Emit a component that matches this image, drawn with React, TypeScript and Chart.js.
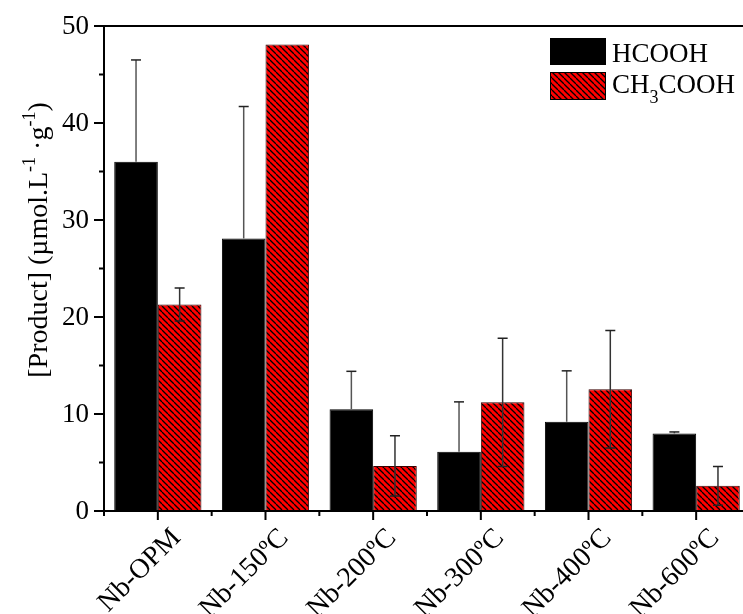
import React, { useEffect, useRef } from "react";
import { Chart, registerables } from "chart.js";

Chart.register(...registerables);

const categories = ["Nb-OPM", "Nb-150ºC", "Nb-200ºC", "Nb-300ºC", "Nb-400ºC", "Nb-600ºC"];
const hcooh = [36.0, 28.1, 10.5, 6.1, 9.2, 8.0];
const hcoohErr = [10.5, 13.6, 3.9, 5.15, 5.25, 0.15];
const ch3cooh = [21.3, 48.1, 4.65, 11.2, 12.55, 2.6];
const ch3coohErr = [1.7, 0, 3.1, 6.6, 6.05, 2.0];
const yTicks = [0, 10, 20, 30, 40, 50];
const yMinorTicks = [5, 15, 25, 35, 45];

const FONT = "'Liberation Serif', 'Times New Roman', serif";

function makeHatch(): CanvasPattern | string {
  const c = document.createElement("canvas");
  c.width = 6;
  c.height = 6;
  const g = c.getContext("2d");
  if (!g) return "#ff0000";
  g.fillStyle = "#ff0000";
  g.fillRect(0, 0, 6, 6);
  g.strokeStyle = "#000000";
  g.lineWidth = 1.3;
  for (const o of [-6, 0, 6]) {
    g.beginPath();
    g.moveTo(o, 0);
    g.lineTo(o + 6, 6);
    g.stroke();
  }
  const p = g.createPattern(c, "repeat");
  return p || "#ff0000";
}

export default function App() {
  const ref = useRef<HTMLCanvasElement | null>(null);

  useEffect(() => {
    if (!ref.current) return;
    const hatch = makeHatch();
    const errs = [hcoohErr, ch3coohErr];

    const custom = {
      id: "customAxes",
      afterDatasetsDraw(chart: any) {
        const ctx: CanvasRenderingContext2D = chart.ctx;
        const xs = chart.scales.x;
        const ys = chart.scales.y;
        const area = chart.chartArea;
        ctx.save();

        // error bars
        chart.data.datasets.forEach((ds: any, di: number) => {
          const meta = chart.getDatasetMeta(di);
          meta.data.forEach((bar: any, j: number) => {
            const v = ds.data[j];
            const e = errs[di][j];
            if (!e) return;
            const x = bar.x;
            const yt = ys.getPixelForValue(v + e);
            const yb = di === 0 ? bar.y : ys.getPixelForValue(v - e);
            ctx.strokeStyle = di === 0 ? "#555555" : "#333333";
            ctx.lineWidth = 1.5;
            ctx.beginPath();
            ctx.moveTo(x, yt);
            ctx.lineTo(x, yb);
            ctx.stroke();
            ctx.strokeStyle = "#222222";
            ctx.beginPath();
            ctx.moveTo(x - 5, yt);
            ctx.lineTo(x + 5, yt);
            if (di === 1) {
              ctx.moveTo(x - 5, yb);
              ctx.lineTo(x + 5, yb);
            }
            ctx.stroke();
          });
        });

        // frame / axes
        ctx.strokeStyle = "#000";
        ctx.lineWidth = 2;
        ctx.beginPath();
        ctx.moveTo(area.left, area.top);
        ctx.lineTo(area.right + 20, area.top);
        ctx.moveTo(area.left, area.top);
        ctx.lineTo(area.left, area.bottom);
        ctx.moveTo(area.left - 1, area.bottom);
        ctx.lineTo(area.right + 20, area.bottom);
        ctx.stroke();

        // y ticks
        ctx.beginPath();
        yTicks.forEach((t) => {
          const y = ys.getPixelForValue(t);
          ctx.moveTo(area.left - 10, y);
          ctx.lineTo(area.left, y);
        });
        yMinorTicks.forEach((t) => {
          const y = ys.getPixelForValue(t);
          ctx.moveTo(area.left - 5, y);
          ctx.lineTo(area.left, y);
        });
        // x ticks
        categories.forEach((_, i) => {
          const x = xs.getPixelForValue(i);
          ctx.moveTo(x, area.bottom);
          ctx.lineTo(x, area.bottom + 9);
        });
        const step = xs.getPixelForValue(1) - xs.getPixelForValue(0);
        for (let i = 0; i <= categories.length; i++) {
          const x = xs.getPixelForValue(0) - step / 2 + i * step;
          ctx.moveTo(x, area.bottom);
          ctx.lineTo(x, area.bottom + 5);
        }
        ctx.stroke();

        // y tick labels
        ctx.fillStyle = "#000";
        ctx.font = `27px ${FONT}`;
        ctx.textAlign = "right";
        ctx.textBaseline = "middle";
        yTicks.forEach((t) => {
          ctx.fillText(String(t), area.left - 15, ys.getPixelForValue(t) + 1);
        });

        // x tick labels rotated
        ctx.font = `28px ${FONT}`;
        ctx.textAlign = "right";
        ctx.textBaseline = "alphabetic";
        categories.forEach((c, i) => {
          const x = xs.getPixelForValue(i);
          ctx.save();
          ctx.translate(x + 24, area.bottom + 28);
          ctx.rotate(-Math.PI / 4);
          ctx.fillText(c, 0, 0);
          ctx.restore();
        });

        // y title with superscripts
        const parts: [string, boolean][] = [
          ["[Product] (µmol.L", false],
          ["-1", true],
          [" ·g", false],
          ["-1", true],
          [")", false],
        ];
        const mainFont = `28px ${FONT}`;
        const supFont = `18px ${FONT}`;
        let total = 0;
        parts.forEach(([s, sup]) => {
          ctx.font = sup ? supFont : mainFont;
          total += ctx.measureText(s).width;
        });
        ctx.save();
        ctx.translate(47, 240);
        ctx.rotate(-Math.PI / 2);
        ctx.textAlign = "left";
        ctx.textBaseline = "alphabetic";
        let cx = -total / 2;
        parts.forEach(([s, sup]) => {
          ctx.font = sup ? supFont : mainFont;
          ctx.fillText(s, cx, sup ? -12 : 0);
          cx += ctx.measureText(s).width;
        });
        ctx.restore();

        // legend
        ctx.fillStyle = "#000";
        ctx.fillRect(550, 38, 56, 27);
        ctx.fillStyle = hatch as any;
        ctx.fillRect(550, 72, 56, 28);
        ctx.lineWidth = 1;
        ctx.strokeStyle = "#000";
        ctx.strokeRect(550.5, 72.5, 55, 27);
        ctx.fillStyle = "#000";
        ctx.font = `27px ${FONT}`;
        ctx.textAlign = "left";
        ctx.textBaseline = "alphabetic";
        ctx.fillText("HCOOH", 612, 62);
        let lx = 612;
        ctx.fillText("CH", lx, 93);
        lx += ctx.measureText("CH").width;
        ctx.font = `18px ${FONT}`;
        ctx.fillText("3", lx, 103);
        lx += ctx.measureText("3").width;
        ctx.font = `27px ${FONT}`;
        ctx.fillText("COOH", lx, 93);

        ctx.restore();
      },
    };

    const chart = new Chart(ref.current, {
      type: "bar",
      data: {
        labels: categories,
        datasets: [
          {
            label: "HCOOH",
            data: hcooh,
            backgroundColor: "#000000",
            borderColor: "#000000",
            borderWidth: 1,
          },
          {
            label: "CH3COOH",
            data: ch3cooh,
            backgroundColor: hatch as any,
            borderColor: "#3a0000",
            borderWidth: 1,
          },
        ],
      },
      options: {
        responsive: false,
        animation: false,
        devicePixelRatio: 1,
        layout: { padding: { left: 104, right: 10, top: 26, bottom: 103 } },
        datasets: { bar: { categoryPercentage: 0.81, barPercentage: 1.0 } },
        plugins: { legend: { display: false }, tooltip: { enabled: false } },
        scales: {
          x: { display: false, offset: true },
          y: { display: false, min: 0, max: 50 },
        },
      },
      plugins: [custom],
    });
    return () => chart.destroy();
  }, []);

  return (
    <div
      style={{
        position: "absolute",
        left: 0,
        top: 0,
        width: 743,
        height: 614,
        overflow: "hidden",
        background: "#fff",
      }}
    >
      <canvas ref={ref} width={760} height={614} style={{ display: "block" }} />
    </div>
  );
}
